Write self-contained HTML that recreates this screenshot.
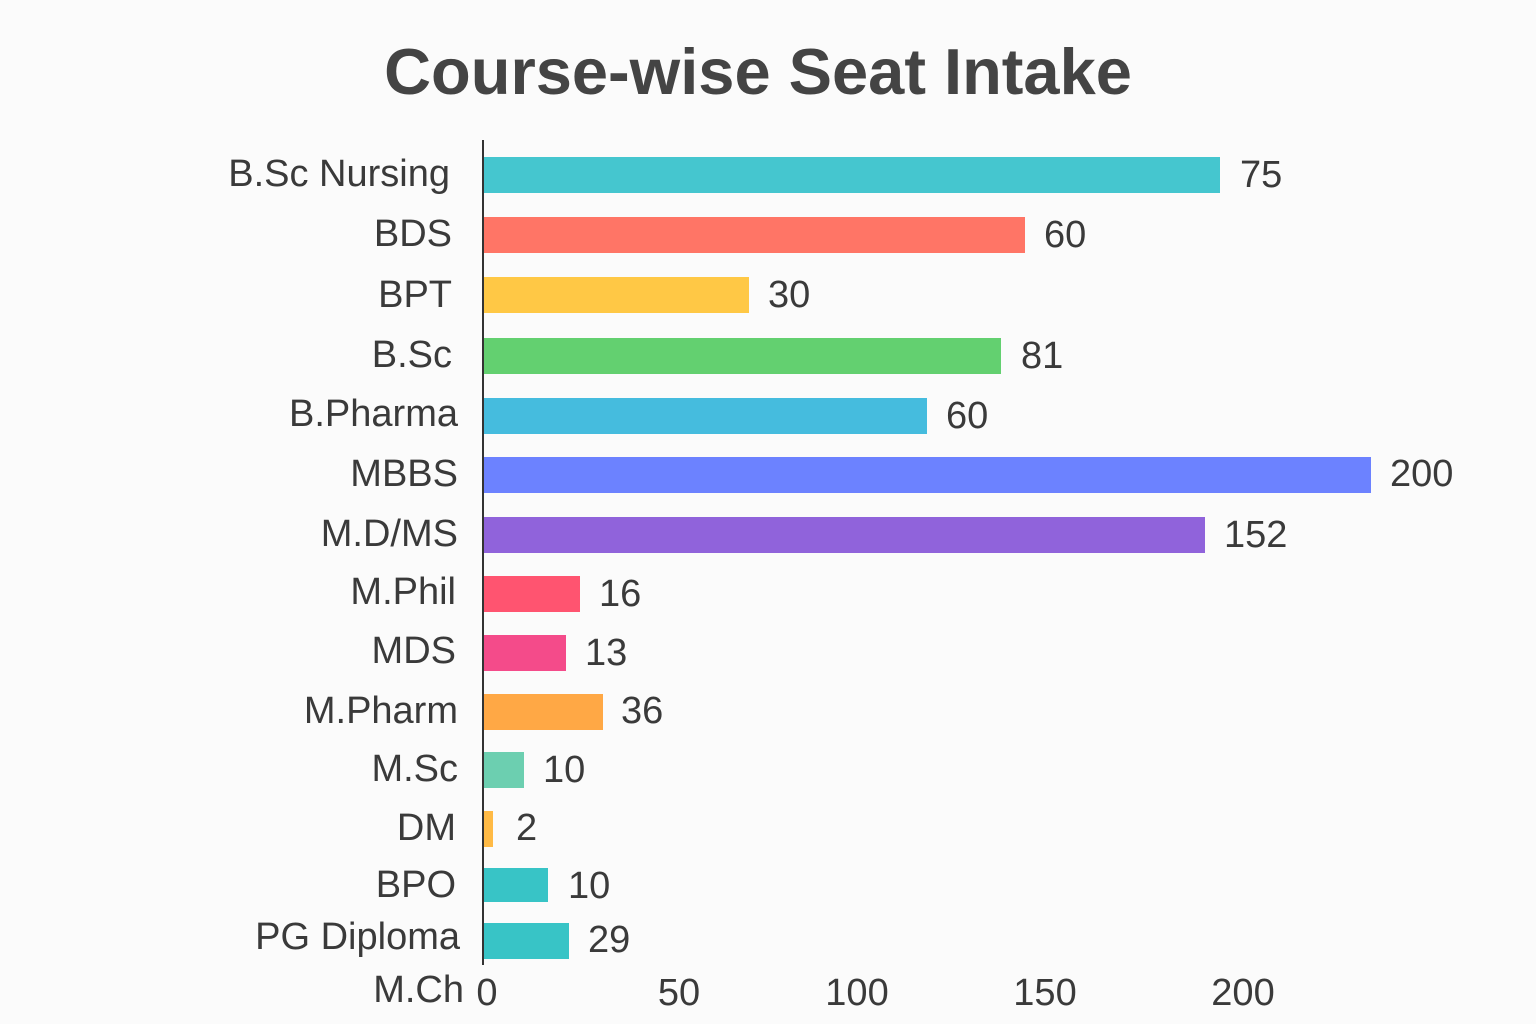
<!DOCTYPE html>
<html><head><style>
body{margin:0;background:#fbfbfb;}
#c{position:relative;width:1536px;height:1024px;font-family:"Liberation Sans",sans-serif;color:#3a3a3a;overflow:hidden}
.t{position:absolute;left:0;width:1516px;text-align:center;top:34px;font-size:65px;font-weight:bold;color:#444}
.b{position:absolute;left:484px}
.l{position:absolute;right:1078px;font-size:38px;text-align:right;white-space:nowrap;margin-top:-2px}
.v{position:absolute;font-size:38px;margin-top:-2px}
.x{position:absolute;top:972px;font-size:38px;transform:translateX(-50%)}
.ax{position:absolute;left:482px;top:140px;width:2px;height:825px;background:#333}
</style></head><body><div id="c">
<div class="t">Course-wise Seat Intake</div>
<div class="ax"></div>
<div class="b" style="top:157px;height:36px;width:736px;background:#45c6cf"></div>
<div class="b" style="top:217px;height:36px;width:541px;background:#ff7566"></div>
<div class="b" style="top:277px;height:36px;width:265px;background:#ffc845"></div>
<div class="b" style="top:338px;height:36px;width:517px;background:#63d070"></div>
<div class="b" style="top:398px;height:36px;width:443px;background:#45bcde"></div>
<div class="b" style="top:457px;height:36px;width:887px;background:#6c82ff"></div>
<div class="b" style="top:517px;height:36px;width:721px;background:#9063db"></div>
<div class="b" style="top:576px;height:36px;width:96px;background:#ff5470"></div>
<div class="b" style="top:635px;height:36px;width:82px;background:#f44b8a"></div>
<div class="b" style="top:694px;height:36px;width:119px;background:#ffa845"></div>
<div class="b" style="top:752px;height:36px;width:40px;background:#6ccfb0"></div>
<div class="b" style="top:811px;height:36px;width:9px;background:#ffba45"></div>
<div class="b" style="top:868px;height:34px;width:64px;background:#38c4c6"></div>
<div class="b" style="top:923px;height:36px;width:85px;background:#38c4c6"></div>

<div class="l" style="top:155px;right:1086px">B.Sc Nursing</div>
<div class="l" style="top:215px;right:1084px">BDS</div>
<div class="l" style="top:276px;right:1084px">BPT</div>
<div class="l" style="top:336px;right:1084px">B.Sc</div>
<div class="l" style="top:395px">B.Pharma</div>
<div class="l" style="top:455px">MBBS</div>
<div class="l" style="top:515px">M.D/MS</div>
<div class="l" style="top:573px;right:1080px">M.Phil</div>
<div class="l" style="top:632px;right:1080px">MDS</div>
<div class="l" style="top:692px">M.Pharm</div>
<div class="l" style="top:750px">M.Sc</div>
<div class="l" style="top:809px;right:1080px">DM</div>
<div class="l" style="top:866px;right:1080px">BPO</div>
<div class="l" style="top:918px;right:1076px">PG Diploma</div>
<div class="l" style="top:971px;right:1072px">M.Ch</div>

<div class="v" style="left:1240px;top:156px">75</div>
<div class="v" style="left:1044px;top:216px">60</div>
<div class="v" style="left:768px;top:276px">30</div>
<div class="v" style="left:1021px;top:337px">81</div>
<div class="v" style="left:946px;top:397px">60</div>
<div class="v" style="left:1390px;top:455px">200</div>
<div class="v" style="left:1224px;top:516px">152</div>
<div class="v" style="left:599px;top:575px">16</div>
<div class="v" style="left:585px;top:634px">13</div>
<div class="v" style="left:621px;top:692px">36</div>
<div class="v" style="left:543px;top:751px">10</div>
<div class="v" style="left:516px;top:809px">2</div>
<div class="v" style="left:568px;top:867px">10</div>
<div class="v" style="left:588px;top:921px">29</div>

<div class="x" style="left:487px">0</div>
<div class="x" style="left:679px">50</div>
<div class="x" style="left:857px">100</div>
<div class="x" style="left:1045px">150</div>
<div class="x" style="left:1243px">200</div>
</div></body></html>
